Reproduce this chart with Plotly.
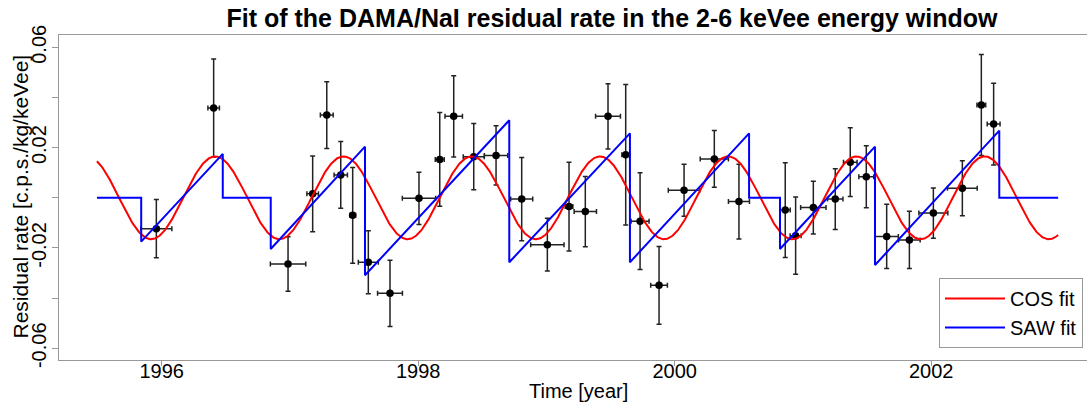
import numpy as np
import plotly.graph_objects as go

# ---------------- data ----------------
years = [1995.958, 1996.405, 1996.985, 1997.177, 1997.287, 1997.396, 1997.489,
         1997.611, 1997.780, 1998.006, 1998.168, 1998.277, 1998.433, 1998.607,
         1998.807, 1999.007, 1999.176, 1999.303, 1999.480, 1999.618, 1999.730,
         1999.878, 2000.073, 2000.309, 2000.501, 2000.862, 2000.943, 2001.081,
         2001.252, 2001.369, 2001.494, 2001.653, 2001.830, 2002.017, 2002.243,
         2002.391, 2002.487]
residual = [-0.0123, 0.0358, -0.0264, 0.0016, 0.0330, 0.0091, -0.0070,
            -0.0257, -0.0381, -0.0002, 0.0153, 0.0325, 0.0164, 0.0169,
            -0.0005, -0.0187, -0.0035, -0.0055, 0.0325, 0.0172, -0.0093,
            -0.0349, 0.0030, 0.0155, -0.0015, -0.0049, -0.0151, -0.0039,
            -0.0005, 0.0142, 0.0084, -0.0154, -0.0168, -0.0061, 0.0038,
            0.0370, 0.0294]
residual_err = [0.0116, 0.0195, 0.0109, 0.0151, 0.0133, 0.0133, 0.0191,
                0.0126, 0.0132, 0.0104, 0.0187, 0.0162, 0.0132, 0.0118,
                0.0166, 0.0105, 0.0177, 0.0140, 0.0130, 0.0280, 0.0193,
                0.0155, 0.0104, 0.0113, 0.0149, 0.0189, 0.0154, 0.0105,
                0.0121, 0.0137, 0.0124, 0.0128, 0.0114, 0.0100, 0.0110,
                0.0201, 0.0163]
years_err = [0.121, 0.045, 0.138, 0.045, 0.050, 0.052, 0.023,
             0.078, 0.097, 0.130, 0.035, 0.068, 0.082, 0.091,
             0.086, 0.130, 0.030, 0.087, 0.097, 0.030, 0.070,
             0.065, 0.123, 0.110, 0.082, 0.039, 0.043, 0.099,
             0.060, 0.053, 0.058, 0.091, 0.084, 0.113, 0.116,
             0.034, 0.050]

# COS fit parameters
cos_amplitude = 0.0165
cos_period = 1.0
cos_phase = 0.4175          # peak time as fraction of year
fit_start = 1995.495
fit_end = 2002.99

# SAW fit segments
saw_start = [1995.840, 1996.850, 1997.585, 1998.710, 1999.651, 2000.821, 2001.562]
saw_end = [1996.476, 1997.585, 1998.710, 1999.651, 2000.580, 2001.562, 2002.531]
saw_amplitude = [0.0175, 0.0204, 0.0309, 0.0257, 0.0257, 0.0204, 0.0268]

x_ticks = [1996, 1998, 2000, 2002]
y_ticks = [-0.06, -0.04, -0.02, 0.0, 0.02, 0.04, 0.06]
y_ticklabels = ["-0.06", "", "-0.02", "", "0.02", "", "0.06"]

# ---------------- build curves ----------------
t = np.linspace(fit_start, fit_end, 1500)
cos_y = cos_amplitude * np.cos(2 * np.pi * (t - cos_phase) / cos_period)

saw_x = [fit_start]
saw_y = [0.0]
prev = None
for s, e, a in zip(saw_start, saw_end, saw_amplitude):
    if prev is None:
        saw_x.append(s); saw_y.append(0.0)
    elif s > prev + 1e-6:
        saw_x += [prev, s]; saw_y += [0.0, 0.0]
    saw_x += [s, e]; saw_y += [-a, a]
    prev = e
saw_x += [prev, fit_end]
saw_y += [0.0, 0.0]

FONT = "Liberation Sans, Arial, Helvetica, sans-serif"
FRAME = "#999999"

fig = go.Figure()
fig.add_trace(go.Scatter(
    x=years, y=residual, mode="markers", showlegend=False,
    marker=dict(color="black", size=7.5),
    error_y=dict(type="data", array=residual_err, color="#222222", thickness=1.5, width=2.5),
    error_x=dict(type="data", array=years_err, color="#222222", thickness=1.5, width=2.5),
))
fig.add_trace(go.Scatter(x=t, y=cos_y, mode="lines", name="COS fit",
                         line=dict(color="#ff0000", width=2)))
fig.add_trace(go.Scatter(x=saw_x, y=saw_y, mode="lines", name="SAW fit",
                         line=dict(color="#0000ff", width=2)))

fig.update_layout(
    width=1087, height=407,
    margin=dict(l=59, r=0, t=35, b=47),
    paper_bgcolor="white", plot_bgcolor="white",
    font=dict(family=FONT, size=20, color="black"),
    title=dict(text="<b>Fit of the DAMA/NaI residual rate in the 2-6 keVee energy window</b>",
               x=612 / 1087, xref="container", xanchor="center",
               y=1 - 18 / 407, yref="container", yanchor="middle",
               font=dict(family=FONT, size=25, color="black")),
    legend=dict(x=0.9961, y=0.0369, xanchor="right", yanchor="bottom",
                bgcolor="white", bordercolor=FRAME, borderwidth=1,
                font=dict(family=FONT, size=20, color="black"),
                itemwidth=60, tracegroupgap=0),
    xaxis=dict(range=[1995.199, 2003.215], tickvals=x_ticks,
               showgrid=False, zeroline=False,
               showline=True, linecolor=FRAME, linewidth=1, mirror=True,
               ticks="outside", ticklen=5, tickcolor=FRAME,
               ticklabelstandoff=-12,
               tickfont=dict(family=FONT, size=20, color="black")),
    yaxis=dict(range=[-0.06467, 0.06491], tickvals=y_ticks, ticktext=y_ticklabels,
               tickangle=-90,
               showgrid=False, zeroline=False,
               showline=True, linecolor=FRAME, linewidth=1, mirror=False,
               ticks="outside", ticklen=6, tickcolor=FRAME,
               ticklabelstandoff=-2,
               tickfont=dict(family=FONT, size=20, color="black")),
    annotations=[
        dict(text="Time [year]", xref="paper", yref="paper", x=0.5058, y=0,
             xanchor="center", yanchor="middle", yshift=-31, showarrow=False,
             font=dict(family=FONT, size=20, color="black")),
        dict(text="Residual rate [c.p.s./kg/keVee]", xref="paper", yref="paper",
             x=0, y=0.5015, xanchor="center", yanchor="middle", xshift=-38.5,
             textangle=-90, showarrow=False,
             font=dict(family=FONT, size=21, color="black")),
    ],
)

fig.write_html("out.html")
